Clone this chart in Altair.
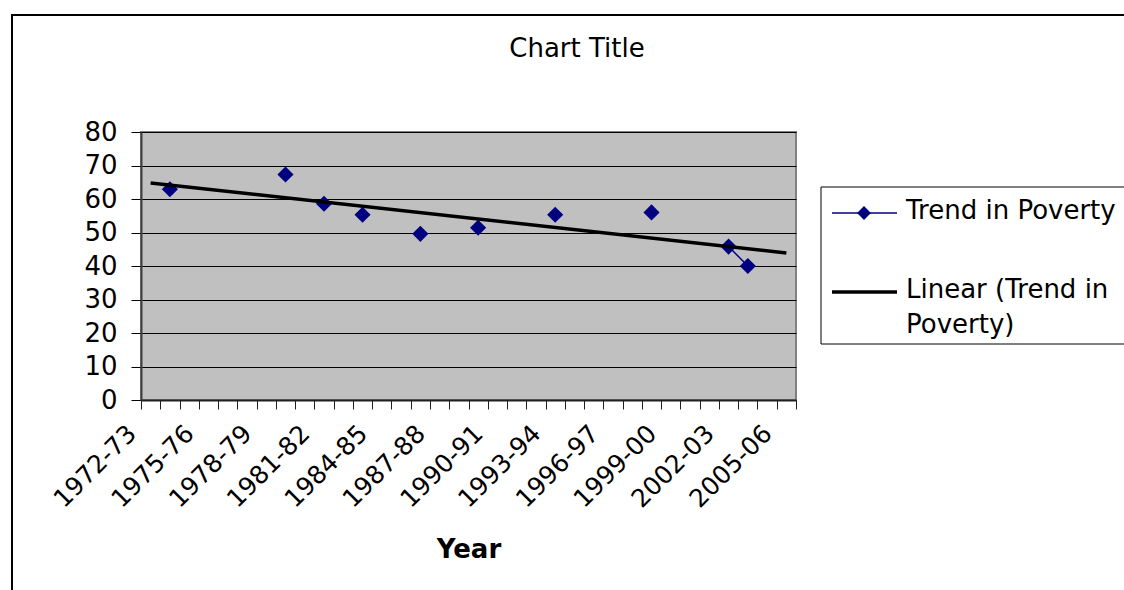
import altair as alt
import pandas as pd

# Survey years on the category axis
years = [
    "1972-73", "1973-74", "1974-75", "1975-76", "1976-77", "1977-78",
    "1978-79", "1979-80", "1980-81", "1981-82", "1982-83", "1983-84",
    "1984-85", "1985-86", "1986-87", "1987-88", "1988-89", "1989-90",
    "1990-91", "1991-92", "1992-93", "1993-94", "1994-95", "1995-96",
    "1996-97", "1997-98", "1998-99", "1999-00", "2000-01", "2001-02",
    "2002-03", "2003-04", "2004-05", "2005-06",
]
# Poverty head-count (%), None where no survey exists
poverty = [
    None, 62.9, None, None, None, None,
    None, 67.3, None, 58.6, None, 55.3,
    None, None, 49.6, None, None, 51.4,
    None, None, None, 55.3, None, None,
    None, None, 56.0, None, None, None,
    45.8, 40.0, None, None,
]
y_ticks = [0, 10, 20, 30, 40, 50, 60, 70, 80]

chart_title = "Chart Title"
x_title = "Year"
series_label = "Trend in Poverty"
trend_label = "Linear (Trend in\nPoverty)"

FONT = "DejaVu Sans"
NAVY = "#000080"

df = pd.DataFrame({"year": years, "idx": list(range(len(years))), "poverty": poverty})
one = pd.DataFrame({"k": [0]})

# page and plot-area geometry
TOTAL_W, TOTAL_H = 1124, 590
LEFT, TOP = 141, 132
W, H = 655, 268

# label every third survey year; the extra boundary tick carries no value
label_every_third = (
    "isString(datum.value) && "
    "(toNumber(substring(datum.value, 0, 4)) - 1972) % 3 == 0 ? datum.value : ''"
)

x_enc = alt.X(
    "year:N",
    bandPosition=0.5,
    scale=alt.Scale(type="band", domain=years, paddingInner=0, paddingOuter=0),
    axis=alt.Axis(
        title=x_title,
        tickBand="extent",
        labelExpr=label_every_third,
        labelAngle=315,
        labelAlign="right",
        labelBaseline="middle",
        labelPadding=20,
        labelOffset=-19,
        labelOverlap=False,
        labelBound=False,
        labelFontSize=25,
        labelColor="black",
        tickSize=9,
        tickColor="#202020",
        domainColor="#202020",
        domainWidth=2,
        grid=False,
        titleFontSize=26,
        titleFontWeight="bold",
        titleColor="black",
        titleY=157,
        titleBaseline="alphabetic",
    ),
)

y_enc = alt.Y(
    "poverty:Q",
    scale=alt.Scale(domain=[0, 80], nice=False),
    axis=alt.Axis(
        title=None,
        values=y_ticks,
        grid=True,
        gridColor="black",
        gridWidth=1,
        tickSize=10,
        tickColor="black",
        labelPadding=14,
        labelFontSize=26,
        labelColor="black",
        domainColor="#404040",
        domainWidth=2,
    ),
)

# outer chart-area border
frame = alt.Chart(one).mark_rect(
    fill="white", fillOpacity=0, stroke="black", strokeWidth=2
).encode(
    x=alt.value(12 - LEFT), x2=alt.value(TOTAL_W - LEFT + 20),
    y=alt.value(15 - TOP), y2=alt.value(TOTAL_H - TOP + 20),
)

title = alt.Chart(one).mark_text(
    text=chart_title, font=FONT, fontSize=26, align="center",
    baseline="alphabetic", color="black",
).encode(x=alt.value(577 - LEFT), y=alt.value(57 - TOP))

line = alt.Chart(df).mark_line(color=NAVY, strokeWidth=1.5).encode(x=x_enc, y=y_enc)

points = alt.Chart(df).mark_point(
    shape="diamond", filled=True, color=NAVY, size=260, opacity=1
).encode(x=x_enc, y=y_enc)

trend = (
    alt.Chart(df)
    .transform_filter("isValid(datum.poverty)")
    .transform_regression("idx", "poverty", extent=[0, len(years) - 1])
    .transform_calculate(
        year="toString(1972 + datum.idx) + '-' + substring(toString(1973 + datum.idx), 2, 4)"
    )
    .mark_line(color="black", strokeWidth=3.5)
    .encode(x=x_enc, y=y_enc)
)

# legend box on the right
lx = 821 - LEFT
legend_box = alt.Chart(one).mark_rect(
    fill="white", stroke="black", strokeWidth=1
).encode(
    x=alt.value(lx), x2=alt.value(TOTAL_W - LEFT + 20),
    y=alt.value(187 - TOP), y2=alt.value(344 - TOP),
)
leg1_line = alt.Chart(one).mark_rule(color=NAVY, strokeWidth=1.5).encode(
    x=alt.value(lx + 11), x2=alt.value(lx + 76), y=alt.value(213 - TOP)
)
leg1_dot = alt.Chart(one).mark_point(
    shape="diamond", filled=True, color=NAVY, size=190, opacity=1
).encode(x=alt.value(lx + 43), y=alt.value(213 - TOP))
leg1_text = alt.Chart(one).mark_text(
    text=series_label, font=FONT, fontSize=26, align="left",
    baseline="alphabetic", color="black",
).encode(x=alt.value(lx + 85), y=alt.value(219 - TOP))
leg2_line = alt.Chart(one).mark_rule(color="black", strokeWidth=3.5).encode(
    x=alt.value(lx + 11), x2=alt.value(lx + 76), y=alt.value(292 - TOP)
)
leg2_text = alt.Chart(one).mark_text(
    text=trend_label, lineBreak="\n", lineHeight=35, font=FONT, fontSize=26,
    align="left", baseline="alphabetic", color="black",
).encode(x=alt.value(lx + 85), y=alt.value(298 - TOP))

chart = alt.layer(
    frame, title, line, points, trend,
    legend_box, leg1_line, leg1_dot, leg1_text, leg2_line, leg2_text,
).properties(
    width=W,
    height=H,
    autosize=alt.AutoSizeParams(type="none"),
    padding={"left": LEFT, "top": TOP,
             "right": TOTAL_W - LEFT - W, "bottom": TOTAL_H - TOP - H},
    background="white",
).configure_view(
    fill="#C0C0C0", stroke="#808080", strokeWidth=2
).configure_axis(
    labelFont=FONT, titleFont=FONT
)

chart.save("out.html", embed_options={"renderer": "svg", "actions": False})
